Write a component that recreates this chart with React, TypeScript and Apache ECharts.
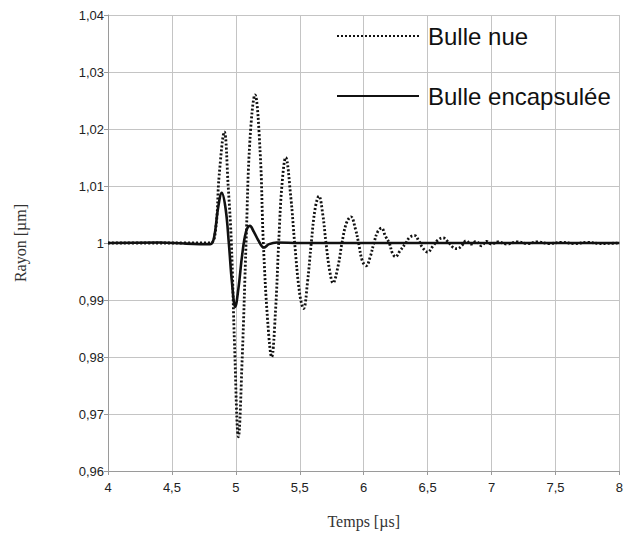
import React, { useEffect, useRef } from "react";
import * as echarts from "echarts";

const xTicks = { min: 4, max: 8, interval: 0.5 };
const yTicks = { min: 0.96, max: 1.04, interval: 0.01 };

const seriesNames = ["Bulle nue", "Bulle encapsulée"];

// Bulle nue (dotted)
const nueTime = [
  4.0, 4.3, 4.6, 4.8, 4.84, 4.87, 4.91, 4.94, 4.965, 4.99, 5.02, 5.05, 5.08, 5.11, 5.15, 5.19,
  5.215, 5.25, 5.28, 5.31, 5.335, 5.36, 5.39, 5.43, 5.46, 5.5, 5.53, 5.56, 5.59, 5.62, 5.65,
  5.68, 5.705, 5.735, 5.76, 5.8, 5.83, 5.865, 5.9, 5.935, 5.96, 5.99, 6.02, 6.05, 6.08, 6.11,
  6.14, 6.17, 6.2, 6.225, 6.25, 6.28, 6.33, 6.36, 6.4, 6.43, 6.46, 6.5, 6.54, 6.58, 6.62, 6.66,
  6.7, 6.73, 6.77, 6.8, 6.84, 6.88, 6.92, 6.96, 7.0, 7.05, 7.12, 7.2, 7.28, 7.36, 7.45, 7.55,
  7.65, 7.75, 7.85, 8.0,
];
const nueValue = [
  1.0, 1.0, 1.0, 1.0, 1.002, 1.012, 1.0195, 1.01, 1.0, 0.982, 0.966, 0.98, 1.0, 1.018, 1.026,
  1.016, 1.0, 0.986, 0.98, 0.988, 1.0, 1.01, 1.015, 1.008, 1.0, 0.991, 0.9885, 0.993, 1.0,
  1.006, 1.0082, 1.005, 1.0, 0.995, 0.993, 0.996, 1.0, 1.0035, 1.0046, 1.0025, 1.0, 0.9968,
  0.996, 0.9975, 1.0, 1.002, 1.0026, 1.0012, 1.0, 0.9982, 0.9976, 0.9985, 1.0, 1.001, 1.0013,
  1.0004, 0.9992, 0.9984, 0.9994, 1.0005, 1.0009, 1.0002, 0.9992, 0.999, 0.9996, 1.0004,
  0.9998, 1.0003, 0.9995, 1.0003, 0.9998, 1.0002, 0.9998, 1.0002, 0.9999, 1.0002, 0.9999,
  1.0001, 0.9999, 1.0001, 0.9999, 1.0,
];

// Bulle encapsulée (solid)
const encTime = [
  4.0, 4.4, 4.6, 4.8, 4.83, 4.86, 4.89, 4.92, 4.945, 4.97, 4.995, 5.02, 5.05, 5.08, 5.11, 5.14,
  5.18, 5.22, 5.26, 5.32, 5.5, 5.8, 6.2, 6.6, 7.0, 7.5, 8.0,
];
const encValue = [
  1.0, 1.0001, 0.9999, 0.9998, 1.001, 1.006, 1.0088, 1.006, 1.0, 0.993, 0.9888, 0.992, 0.998,
  1.002, 1.003, 1.002, 1.0003, 0.9992, 0.9998, 1.0001, 1.0, 1.0, 1.0, 1.0, 1.0, 1.0, 1.0,
];

const fmt = (v: number) => String(+v.toFixed(2)).replace(".", ",");

export default function App() {
  const ref = useRef<HTMLDivElement>(null);
  useEffect(() => {
    document.body.style.margin = "0";
    const chart = echarts.init(ref.current!, null, { renderer: "svg" });
    const axisColor = "#9a9a9a";
    chart.setOption({
      animation: false,
      backgroundColor: "#ffffff",
      grid: { left: 108, right: 3, top: 15, bottom: 63 },
      legend: {
        orient: "vertical",
        left: 331,
        top: 19,
        itemWidth: 82,
        itemHeight: 14,
        itemGap: 36,
        data: seriesNames,
        itemStyle: { opacity: 0, borderWidth: 0 },
        textStyle: {
          fontFamily: "Liberation Sans, Arial, sans-serif",
          fontSize: 24,
          color: "#111",
          padding: [0, 0, 0, 4],
        },
      },
      xAxis: {
        type: "value",
        min: xTicks.min,
        max: xTicks.max,
        interval: xTicks.interval,
        name: "Temps [µs]",
        nameLocation: "middle",
        nameGap: 42,
        nameTextStyle: { fontFamily: "Liberation Serif, serif", fontSize: 16, color: "#333" },
        axisLine: { show: true, lineStyle: { color: axisColor, width: 1 } },
        axisTick: { show: true, length: 4, lineStyle: { color: axisColor } },
        axisLabel: {
          formatter: fmt,
          fontFamily: "Liberation Sans, Arial, sans-serif",
          fontSize: 13,
          color: "#222",
          margin: 10,
        },
        splitLine: { show: true, lineStyle: { color: "#c4c4c4", width: 1 } },
      },
      yAxis: {
        type: "value",
        min: yTicks.min,
        max: yTicks.max,
        interval: yTicks.interval,
        name: "Rayon [µm]",
        nameLocation: "middle",
        nameGap: 80,
        nameTextStyle: { fontFamily: "Liberation Serif, serif", fontSize: 16, color: "#333" },
        axisLine: { show: true, lineStyle: { color: axisColor, width: 1 } },
        axisTick: { show: true, length: 4, lineStyle: { color: axisColor } },
        axisLabel: {
          formatter: fmt,
          fontFamily: "Liberation Sans, Arial, sans-serif",
          fontSize: 13,
          color: "#222",
          margin: 4,
        },
        splitLine: { show: true, lineStyle: { color: "#c4c4c4", width: 1 } },
      },
      series: [
        {
          name: seriesNames[0],
          type: "line",
          showSymbol: false,
          symbol: "none",
          smooth: 0.4,
          data: nueTime.map((t, i) => [t, nueValue[i]]),
          lineStyle: { color: "#111", width: 2.8, type: [2, 2] },
          itemStyle: { color: "#111" },
          z: 3,
        },
        {
          name: seriesNames[1],
          type: "line",
          showSymbol: false,
          symbol: "none",
          smooth: 0.4,
          data: encTime.map((t, i) => [t, encValue[i]]),
          lineStyle: { color: "#111", width: 2.6, type: "solid" },
          itemStyle: { color: "#111" },
          z: 4,
        },
      ],
    });
    return () => chart.dispose();
  }, []);
  return <div ref={ref} style={{ width: 626, height: 534 }} />;
}
